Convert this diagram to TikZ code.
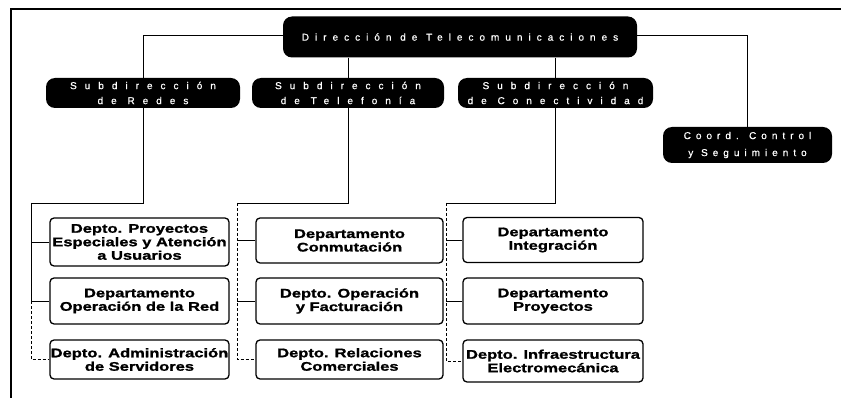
\documentclass[tikz,border=0pt]{standalone}
\usepackage{fontspec}
\setmainfont{Liberation Sans}
\newfontfamily\deptfont[FakeStretch=1.32,FakeBold=1.2]{Liberation Sans}
\newfontfamily\topfont[LetterSpace=60,FakeBold=0.6]{Liberation Sans}
\newfontfamily\subfont[LetterSpace=80,FakeBold=0.6]{Liberation Sans}
\newfontfamily\coordfont[LetterSpace=50,FakeBold=0.6]{Liberation Sans}
\begin{document}
\begin{tikzpicture}[x=1pt,y=-1pt,
  blackbox/.style={fill=black,rounded corners=9pt,text=white,align=center,inner sep=0pt},
  dept/.style={draw,line width=1.3pt,rounded corners=4pt,align=center,inner sep=0pt,
    font=\deptfont\bfseries\fontsize{12.5}{13.5}\selectfont},
  conn/.style={line width=0.8pt},
  dconn/.style={line width=0.8pt,densely dashed}]
\useasboundingbox (0,0) rectangle (841,398);
% frame
\draw[line width=1.2pt] (11,398) -- (11,9) -- (841,9);
% top
\node[blackbox,minimum width=354pt,minimum height=41pt,font=\topfont\fontsize{10}{11}\selectfont] (dir) at (460,37) {Dirección de Telecomunicaciones};
% subdirections
\node[blackbox,minimum width=194pt,minimum height=30pt,font=\subfont\fontsize{10}{15}\selectfont] (redes) at (143,93) {Subdirección\\de Redes};
\node[blackbox,minimum width=192pt,minimum height=30pt,font=\subfont\fontsize{10}{15}\selectfont] (tel) at (348,93) {Subdirección\\de Telefonía};
\node[blackbox,minimum width=195pt,minimum height=30pt,font=\subfont\fontsize{10}{15}\selectfont] (con) at (555.5,93) {Subdirección\\de Conectividad};
\node[blackbox,minimum width=169pt,minimum height=36pt,font=\coordfont\fontsize{10}{17}\selectfont] (coord) at (747.5,145) {Coord. Control\\y Seguimiento};
% departments column 1
\node[dept,minimum width=179pt,minimum height=48pt] (d11) at (139.5,242) {Depto. Proyectos\\Especiales y Atención\\a Usuarios};
\node[dept,minimum width=179pt,minimum height=46pt] (d12) at (139.5,301) {Departamento\\Operación de la Red};
\node[dept,minimum width=179pt,minimum height=39pt] (d13) at (139.5,359.5) {Depto. Administración\\de Servidores};
% column 2
\node[dept,minimum width=187pt,minimum height=45pt] (d21) at (349.5,240.5) {Departamento\\Conmutación};
\node[dept,minimum width=187pt,minimum height=46pt] (d22) at (349.5,301) {Depto. Operación\\y Facturación};
\node[dept,minimum width=187pt,minimum height=39pt] (d23) at (349.5,359.5) {Depto. Relaciones\\Comerciales};
% column 3
\node[dept,minimum width=180pt,minimum height=45pt] (d31) at (553,240) {Departamento\\Integración};
\node[dept,minimum width=180pt,minimum height=46pt] (d32) at (553,301) {Departamento\\Proyectos};
\node[dept,minimum width=180pt,minimum height=42pt] (d33) at (553,361) {Depto. Infraestructura\\Electromecánica};
% top connectors
\draw[conn] (dir.west |- 0,35) -| (redes.north);
\draw[conn] (dir.east |- 0,35) -| (coord.north);
\draw[conn] (tel.north |- dir.south) -- (tel.north);
\draw[conn] (con.north |- dir.south) -- (con.north);
% buses
\coordinate (b1) at (31,203);
\coordinate (b2) at (237,203);
\coordinate (b3) at (446,203);
\draw[conn] (redes.south) |- (b1);
\draw[conn] (tel.south) |- (b2);
\draw[conn] (con.south) |- (b3);
\draw[conn] (b1) -- (b1 |- d12.west);
\draw[dconn] (b1 |- d12.west) |- (d13.west);
\draw[conn] (b1 |- d11.west) -- (d11.west);
\draw[conn] (b1 |- d12.west) -- (d12.west);
\draw[dconn] (b2) |- (d23.west);
\draw[conn] (b2 |- d21.west) -- (d21.west);
\draw[conn] (b2 |- d22.west) -- (d22.west);
\draw[dconn] (b3) |- (d33.west);
\draw[conn] (b3 |- d31.west) -- (d31.west);
\draw[conn] (b3 |- d32.west) -- (d32.west);
\end{tikzpicture}
\end{document}
